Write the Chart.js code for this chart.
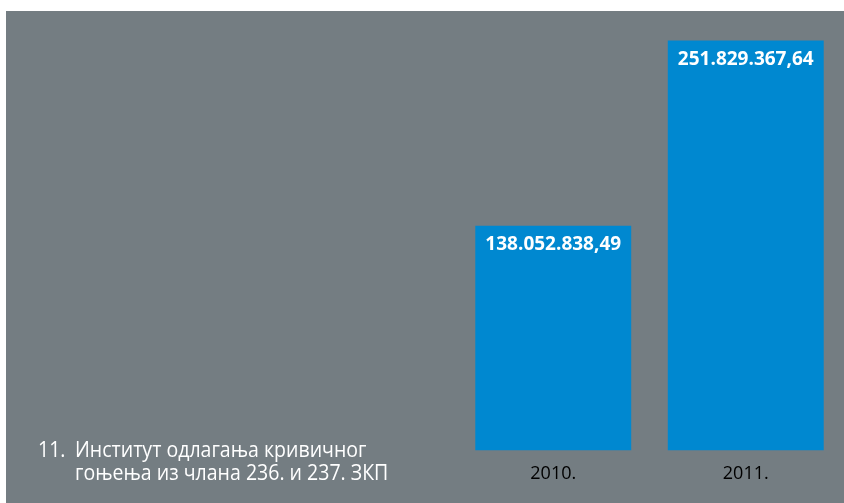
<!DOCTYPE html>
<html>
<head>
<meta charset="utf-8">
<script src="https://cdn.jsdelivr.net/npm/chart.js@4/dist/chart.umd.min.js"></script>
<style>
  body { margin: 0; background: #fff; }
  #wrap { position: absolute; left: 6px; top: 11px; width: 838px; height: 492px; background: #747d82; }
</style>
</head>
<body>
<div id="wrap"><canvas id="chart" width="838" height="492"></canvas></div>
<script>
const years = ["2010.", "2011."];
const amounts = [138052838.49, 251829367.64];
const titleNumber = "11.";
const titleLines = ["Институт одлагања кривичног", "гоњења из члана 236. и 237. ЗКП"];

// 138052838.49 -> 138.052.838,49
function formatAmount(v) {
    const parts = v.toFixed(2).split(".");
    return parts[0].replace(/\B(?=(\d{3})+(?!\d))/g, ".") + "," + parts[1];
}

const labelsPlugin = {
    id: "labels",
    afterDatasetsDraw(chart) {
        const c = chart.ctx;
        c.save();
        c.fillStyle = "#fff";
        c.font = "bold 19px 'Open Sans'";
        c.textAlign = "center";
        c.textBaseline = "middle";
        chart.getDatasetMeta(0).data.forEach((bar, i) => {
            c.fillText(formatAmount(amounts[i]), bar.x, bar.y + 19);
        });
        // title at the bottom left, a bit condensed like the original
        const sx = 0.93;
        c.font = "21px 'Open Sans'";
        c.textAlign = "left";
        c.textBaseline = "alphabetic";
        c.scale(sx, 1);
        c.fillText(titleNumber, 32 / sx, 446);
        c.fillText(titleLines[0], 69 / sx, 446);
        c.fillText(titleLines[1], 69 / sx, 469);
        c.restore();
    }
};

new Chart(document.getElementById("chart"), {
    type: "bar",
    data: {
        labels: years,
        datasets: [{ data: amounts, backgroundColor: "#0088d0", barPercentage: 0.81, categoryPercentage: 1 }]
    },
    options: {
        responsive: false,
        animation: false,
        layout: { padding: { left: 451, right: 2, top: 0, bottom: 5 } },
        plugins: { legend: { display: false }, tooltip: { enabled: false } },
        scales: {
            x: {
                grid: { display: false, drawTicks: false },
                border: { display: false },
                ticks: { color: "#000", font: { family: "Open Sans", size: 18 }, padding: 13 }
            },
            y: { display: false, min: 0, max: 270000000 }
        }
    },
    plugins: [labelsPlugin]
});
</script>
</body>
</html>
